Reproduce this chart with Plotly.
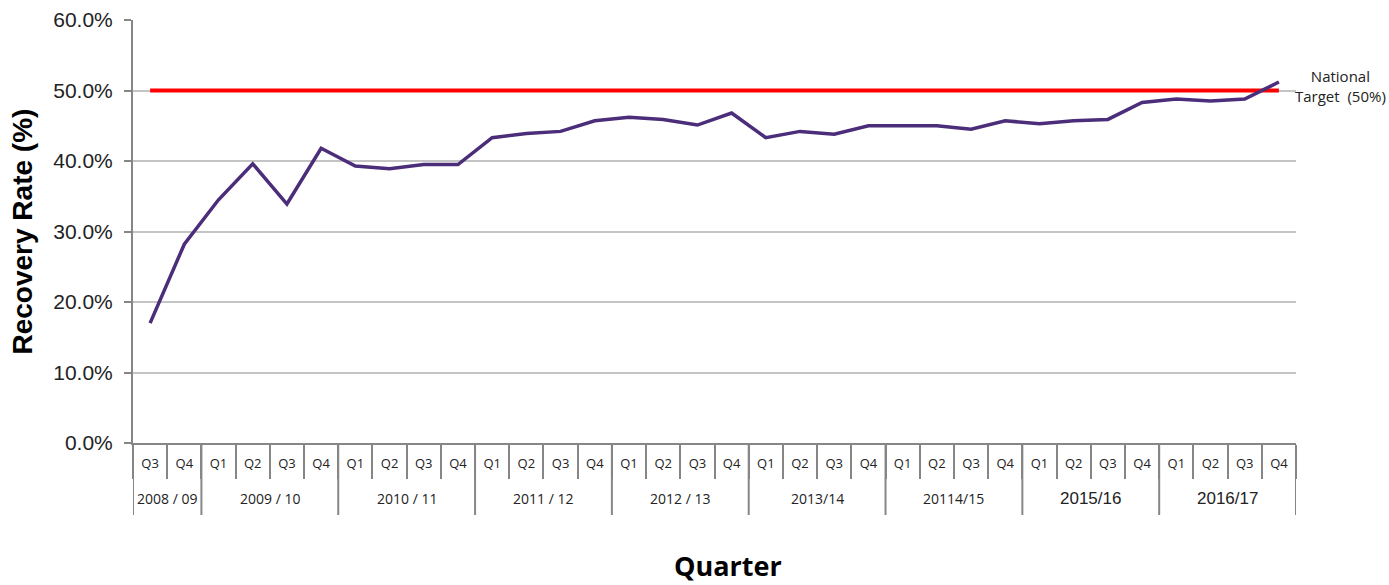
import plotly.graph_objects as go

quarters = ["Q3", "Q4"] + ["Q1", "Q2", "Q3", "Q4"] * 8
year_labels = ["2008 / 09", "2009 / 10", "2010 / 11", "2011 / 12", "2012 / 13",
               "2013/14", "20114/15", "2015/16", "2016/17"]
year_sizes = [2, 4, 4, 4, 4, 4, 4, 4, 4]
recovery = [17.0, 28.2,
            34.5, 39.6, 33.9, 41.8,
            39.3, 38.9, 39.5, 39.5,
            43.3, 43.9, 44.2, 45.7,
            46.2, 45.9, 45.1, 46.8,
            43.3, 44.2, 43.8, 45.0,
            45.0, 45.0, 44.5, 45.7,
            45.3, 45.7, 45.9, 48.3,
            48.8, 48.5, 48.8, 51.2]
target = [50.0] * len(quarters)
y_ticks = [0, 10, 20, 30, 40, 50, 60]

AX = "#868686"
GRID = "#C4C4C4"
idx = list(range(len(quarters)))

L, R, T, B = 133, 93, 20, 142
W, H = 1389, 585
plot_w = W - L - R
plot_h = H - T - B

fig = go.Figure()
fig.add_trace(go.Scatter(x=idx, y=target, mode="lines",
                         line=dict(color="#FF0000", width=4), hoverinfo="skip"))
fig.add_trace(go.Scatter(x=idx, y=recovery, mode="lines",
                         line=dict(color="#4B2D7A", width=3.5)))

fig.update_layout(
    width=W, height=H,
    margin=dict(l=L, r=R, t=T, b=B),
    paper_bgcolor="white", plot_bgcolor="white",
    showlegend=False,
    font=dict(family="Open Sans", color="#222222"),
    xaxis=dict(
        automargin=False,
        range=[-0.5, len(quarters) - 0.5],
        tickvals=idx, ticktext=quarters,
        showline=True, linecolor=AX, linewidth=2,
        ticks="", ticklabelstandoff=7,
        minor=dict(tick0=-0.5, dtick=1, ticks="outside", ticklen=34,
                   tickwidth=2, tickcolor=AX, showgrid=False),
        showgrid=False, zeroline=False,
        tickfont=dict(family="Open Sans", size=13, color="#222222"),
    ),
    yaxis=dict(
        automargin=False,
        range=[0, 60], tickvals=y_ticks,
        ticktext=[f"{v:.1f}%" for v in y_ticks],
        showline=True, linecolor=AX, linewidth=2,
        ticks="outside", ticklen=7, tickwidth=2, tickcolor=AX,
        ticklabelstandoff=7,
        showgrid=True, gridcolor=GRID, gridwidth=1.5,
        zeroline=False,
        tickfont=dict(family="Liberation Sans, Arial", size=21, color="#222222"),
    ),
)

# axis titles
fig.add_annotation(xref="paper", yref="paper", x=(728 - L) / plot_w, y=-(566 - (T + plot_h)) / plot_h,
                   text="<b>Quarter</b>", showarrow=False, xanchor="center", yanchor="middle",
                   font=dict(family="Open Sans", size=27, color="#000000"))
fig.add_annotation(xref="paper", yref="paper", x=(22 - L) / plot_w, y=0.5,
                   text="<b>Recovery Rate (%)</b>", showarrow=False, textangle=-90,
                   xanchor="center", yanchor="middle",
                   font=dict(family="Liberation Sans, Arial", size=28, color="#000000"))

# year group labels and dividers
start = -0.5
bounds = [start]
for lab, n in zip(year_labels, year_sizes):
    center = start + n / 2
    big = lab in ("2015/16", "2016/17")
    fig.add_annotation(xref="x", yref="paper", x=center, y=-(498 - 443) / plot_h,
                       text=lab, showarrow=False, yanchor="middle",
                       font=dict(family="Liberation Sans, Arial" if big else "Open Sans",
                                 size=17 if big else 14, color="#222222"))
    start += n
    bounds.append(start)
for b in bounds:
    fig.add_shape(type="line", xref="x", yref="paper", x0=b, x1=b,
                  y0=0, y1=-(515 - 443) / plot_h,
                  line=dict(color=AX, width=2))

fig.add_annotation(xref="paper", yref="y", x=(1340 - L) / plot_w, y=50.6,
                   text="National<br>Target  (50%)", showarrow=False,
                   font=dict(family="Open Sans", size=15, color="#222222"),
                   align="center", xanchor="center", yanchor="middle")

fig.write_html("out.html", config={"displayModeBar": False},
               post_script="document.body.style.margin='0';document.body.style.overflow='hidden';")
